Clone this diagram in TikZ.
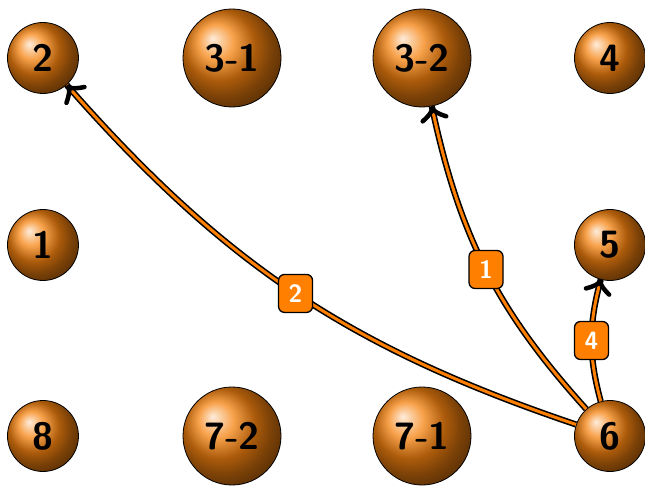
\documentclass[tikz,border=0pt]{standalone}
\usepackage{fontspec}
\usetikzlibrary{decorations.markings}
\definecolor{edgeorange}{RGB}{255,128,0}
\definecolor{ballorange}{RGB}{245,130,15}
\tikzset{
  ballnode/.style={circle, draw=black, line width=0.8pt, shading=ball, ball color=ballorange,
    inner sep=0pt, font=\fontsize{38}{44}\selectfont\sffamily\bfseries},
  smallball/.style={ballnode, minimum size=71pt},
  bigball/.style={ballnode, minimum size=98pt},
  tipstroke/.style={draw=black, line width=4.5pt, line cap=round, line join=round},
  link/.style={draw=black, line width=1.6pt, double=edgeorange, double distance=3pt,
    bend left=15,
    postaction={decorate, decoration={markings, mark=at position 0.998 with {
      \draw[tipstroke] (-12pt,12pt) .. controls (-8pt,5pt) and (-5pt,1pt) .. (-1pt,0pt)
                       .. controls (-5pt,-1pt) and (-8pt,-5pt) .. (-12pt,-12pt);}}}},
  tag/.style={rectangle, rounded corners=6pt, draw=black, line width=1.3pt, fill=edgeorange,
    text=white, minimum width=34pt, minimum height=38pt, inner sep=0pt,
    font=\fontsize{25}{29}\selectfont\sffamily\bfseries}
}
\begin{document}
\begin{tikzpicture}[x=1pt,y=1pt]
\useasboundingbox (0,0) rectangle (645,485);
\node[smallball] (n2) at (43,427) {2};
\node[bigball] (n31) at (232,427) {3-1};
\node[bigball] (n32) at (422,427) {3-2};
\node[smallball] (n4) at (610,427) {4};
\node[smallball] (n1) at (43,240) {1};
\node[smallball] (n5) at (610,240) {5};
\node[smallball] (n8) at (43,49) {8};
\node[bigball] (n72) at (232,49) {7-2};
\node[bigball] (n71) at (422,49) {7-1};
\node[smallball] (n6) at (610,49) {6};
\draw[link] (n6) to node[tag] (t2) {2} (n2);
\draw[link] (n6) to node[tag] (t1) {1} (n32);
\draw[link] (n6) to node[tag] (t4) {4} (n5);
\end{tikzpicture}
\end{document}
